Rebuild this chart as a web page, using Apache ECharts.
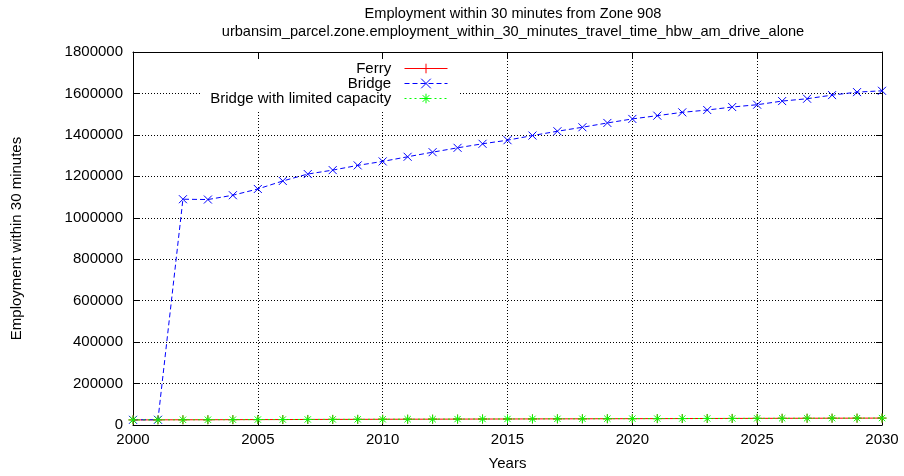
<!DOCTYPE html>
<html>
<head>
<meta charset="utf-8">
<script src="https://cdn.jsdelivr.net/npm/echarts@6/dist/echarts.min.js"></script>
<style>html,body{margin:0;padding:0;background:#fff}#c{width:904px;height:476px}</style>
</head>
<body>
<div id="c"></div>
<script>
const years = [2000,2001,2002,2003,2004,2005,2006,2007,2008,2009,2010,2011,2012,2013,2014,2015,2016,2017,2018,2019,2020,2021,2022,2023,2024,2025,2026,2027,2028,2029,2030];
const ferry = [24500,24900,25200,25400,25800,26100,26300,26700,27000,27200,27600,27900,28100,28500,28800,29000,29400,29700,29900,30300,30600,30800,31100,31400,31600,32000,32200,32500,32800,33000,33300];
const bridge = [25000,25300,1089600,1088000,1108800,1139000,1177600,1211000,1230000,1252800,1272000,1294400,1316600,1337600,1357000,1374400,1396800,1417600,1436800,1457600,1477000,1492800,1508800,1520000,1534400,1545600,1563200,1574400,1592000,1606400,1612800];
const limited = [24600,24900,25300,25500,25900,26200,26400,26800,27100,27300,27700,28000,28200,28600,28900,29100,29500,29800,30000,30400,30700,30900,31200,31500,31700,32100,32300,32600,32900,33100,33400];
const seriesNames = ['Ferry', 'Bridge', 'Bridge with limited capacity'];
const titleLines = ['Employment within 30 minutes from Zone 908', 'urbansim_parcel.zone.employment_within_30_minutes_travel_time_hbw_am_drive_alone'];

const pair = arr => years.map((y, i) => [y, arr[i]]);
const FONT = 'Liberation Sans, Arial, sans-serif';
const FS = 15;
const plus = 'path://M5 0L5 10M0 5L10 5';
const cross = 'path://M0 0L10 10M10 0L0 10';
const star = 'path://M5 0L5 10M0 5L10 5M1.5 1.5L8.5 8.5M8.5 1.5L1.5 8.5';

const chart = echarts.init(document.getElementById('c'));
const axisLine = {show: true, onZero: false, lineStyle: {color: '#000', width: 1}};
const axisTick = {show: true, inside: true, length: 6, lineStyle: {color: '#000', width: 1}};
const plain = v => String(v);
chart.setOption({
  animation: false,
  backgroundColor: '#fff',
  textStyle: {fontFamily: FONT},
  title: {
    text: titleLines.join('\n'),
    left: 508, top: 0, textAlign: 'center',
    textStyle: {fontSize: 14.6, fontWeight: 'normal', color: '#000', lineHeight: 18, fontFamily: FONT}
  },
  grid: {left: 133, right: 22, top: 52, bottom: 49, containLabel: false},
  legend: {
    orient: 'vertical', align: 'right',
    right: 446, top: 59,
    padding: [2, 10, 4, 10],
    itemWidth: 43, itemHeight: 12, itemGap: 0,
    backgroundColor: '#fff',
    lineStyle: {width: 1},
    itemStyle: {borderWidth: 1},
    textStyle: {fontSize: FS, color: '#000', fontFamily: FONT, lineHeight: 14.5},
    formatter: n => n + '  ',
    data: seriesNames
  },
  xAxis: [{
    type: 'value', min: 2000, max: 2030, interval: 5,
    name: 'Years', nameLocation: 'middle', nameGap: 31,
    nameTextStyle: {fontSize: FS, color: '#000'},
    axisLine, axisTick,
    axisLabel: {fontSize: FS, color: '#000', margin: 7, formatter: plain},
    splitLine: {show: true, lineStyle: {color: '#000', type: [1, 2], width: 1}}
  }, {
    type: 'value', min: 2000, max: 2030, interval: 5, position: 'top',
    axisLine, axisTick, axisLabel: {show: false}, splitLine: {show: false}
  }],
  yAxis: [{
    type: 'value', min: 0, max: 1800000, interval: 200000,
    name: 'Employment within 30 minutes', nameLocation: 'middle', nameGap: 109,
    nameTextStyle: {fontSize: FS, color: '#000'},
    axisLine, axisTick,
    axisLabel: {fontSize: FS, color: '#000', margin: 10, formatter: plain},
    splitLine: {show: true, lineStyle: {color: '#000', type: [1, 2], width: 1}}
  }, {
    type: 'value', min: 0, max: 1800000, interval: 200000, position: 'right',
    axisLine, axisTick, axisLabel: {show: false}, splitLine: {show: false}
  }],
  series: [{
    name: seriesNames[0], type: 'line', data: pair(ferry),
    symbol: plus, symbolSize: 9, showAllSymbol: true,
    lineStyle: {color: '#ff0000', width: 1},
    itemStyle: {color: '#ff0000', borderColor: '#ff0000', borderWidth: 1}
  }, {
    name: seriesNames[1], type: 'line', data: pair(bridge),
    symbol: cross, symbolSize: 8, showAllSymbol: true,
    lineStyle: {color: '#0000ff', width: 1, type: [5, 3]},
    itemStyle: {color: '#0000ff', borderColor: '#0000ff', borderWidth: 1}
  }, {
    name: seriesNames[2], type: 'line', data: pair(limited),
    symbol: star, symbolSize: 9, showAllSymbol: true,
    lineStyle: {color: '#00ff00', width: 1, type: [2, 3]},
    itemStyle: {color: '#00ff00', borderColor: '#00ff00', borderWidth: 1}
  }]
});
</script>
</body>
</html>
